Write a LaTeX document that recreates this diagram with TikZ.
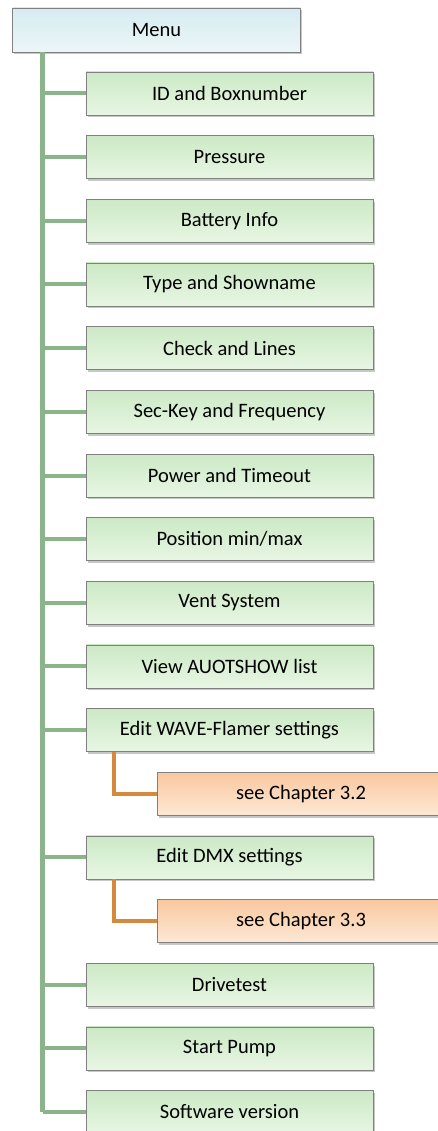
\documentclass[tikz,border=0pt]{standalone}
\usepackage{fontspec}
\setmainfont{Carlito}
\usetikzlibrary{shadows}
\definecolor{boxedge}{RGB}{128,128,128}
\definecolor{greentop}{RGB}{204,233,197}
\definecolor{greenbot}{RGB}{232,246,228}
\definecolor{bluetop}{RGB}{214,236,240}
\definecolor{bluebot}{RGB}{236,246,248}
\definecolor{orangetop}{RGB}{249,200,158}
\definecolor{orangebot}{RGB}{253,232,214}
\definecolor{greenline}{RGB}{140,180,138}
\definecolor{orangeline}{RGB}{212,137,60}
\begin{document}
\begin{tikzpicture}[x=1pt,y=-1pt,
  box/.style={draw=boxedge, line width=0.8pt, minimum width=287pt, minimum height=43pt,
    inner sep=0pt, font=\fontsize{20.5}{24}\selectfont,
    drop shadow={shadow xshift=1.6pt, shadow yshift=-2.4pt, opacity=0.4, fill=black!55}},
  menubox/.style={box, minimum width=288pt, minimum height=44pt, top color=bluetop, bottom color=bluebot},
  itembox/.style={box, top color=greentop, bottom color=greenbot},
  refbox/.style={box, minimum width=288pt, top color=orangetop, bottom color=orangebot},
  trunkline/.style={draw=greenline, line width=4.6pt},
  branchline/.style={draw=greenline, line width=4pt},
  subline/.style={draw=orangeline, line width=4.4pt, line join=miter}]
\useasboundingbox (0,0) rectangle (438,1131);
\clip (0,0) rectangle (438,1131);
\fill[white] (0,0) rectangle (438,1131);

% x positions of the main trunk and of the sub-links
\coordinate (t) at (42.5,0);
\coordinate (o) at (114,0);

% the top-level menu
\node[menubox] (menu) at (156.5,30) {Menu};

% menu entries, one row every 63.66 units
\node[itembox] (id)    at (229.5,93.5)  {ID and Boxnumber};
\node[itembox] (pres)  at (229.5,157.2) {Pressure};
\node[itembox] (batt)  at (229.5,220.8) {Battery Info};
\node[itembox] (type)  at (229.5,284.5) {Type and Showname};
\node[itembox] (check) at (229.5,348.1) {Check and Lines};
\node[itembox] (sec)   at (229.5,411.8) {Sec-Key and Frequency};
\node[itembox] (power) at (229.5,475.5) {Power and Timeout};
\node[itembox] (pos)   at (229.5,539.1) {Position min/max};
\node[itembox] (vent)  at (229.5,602.8) {Vent System};
\node[itembox] (view)  at (229.5,666.4) {View AUOTSHOW list};
\node[itembox] (wave)  at (229.5,730.1) {Edit WAVE-Flamer settings};
\node[refbox]  (ch32)  at (301,793.8)   {see Chapter 3.2};
\node[itembox] (dmx)   at (229.5,857.4) {Edit DMX settings};
\node[refbox]  (ch33)  at (301,921.1)   {see Chapter 3.3};
\node[itembox] (drive) at (229.5,984.7) {Drivetest};
\node[itembox] (pump)  at (229.5,1048.4){Start Pump};
\node[itembox] (soft)  at (229.5,1112)  {Software version};

% trunk and branches
\draw[trunkline] ([yshift=0.4pt]t |- menu.south) -- (t |- soft.west);
\foreach \n in {id,pres,batt,type,check,sec,power,pos,vent,view,wave,dmx,drive,pump,soft}
  \draw[branchline] (t |- \n.west) -- (\n.west);

% links to the other chapters
\draw[subline] (o |- wave.south) |- (ch32.west);
\draw[subline] (o |- dmx.south) |- (ch33.west);
\end{tikzpicture}
\end{document}
